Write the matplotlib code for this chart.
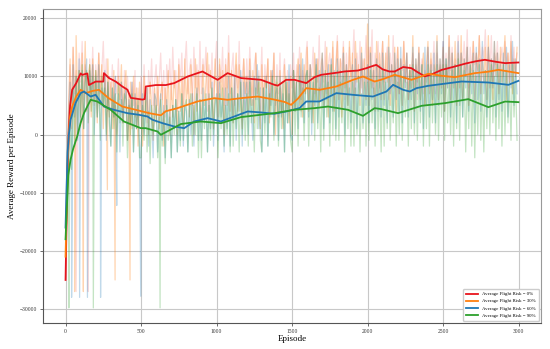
#!/usr/bin/env python3
"""Average reward per episode for four flight-risk levels (raw + smoothed)."""

import numpy as np
import matplotlib.pyplot as plt

plt.rcParams["font.family"] = ["Liberation Serif", "DejaVu Serif"]

labels = ["Average Flight Risk = 0%", "Average Flight Risk = 30%",
          "Average Flight Risk = 60%", "Average Flight Risk = 90%"]
colors = ["#e8141c", "#ff7f0e", "#1f77b4", "#2ca02c"]

# raw episode rewards (thousands), one value every 10 episodes, one row = 100 episodes
raw_step = 10
raw_red_k = [
    -25, -8, 5, 12, 4, 15, 7, 11, 3, 14,
    9, 16, 6, 12, 8, 4, 13, 7, 15, 5,
    12, 8, 14, 5, 11, 16, 7, 13, 4, 10,
    6, 12, 3, 10, 7, 13, 5, 9, 2, 11,
    4, 10, 6, 2, 9, 5, 11, 1, 8, 3,
    10, 4, 12, 6, 2, 11, 7, 13, 5, 9,
    12, 5, 9, 14, 6, 11, 3, 12, 8, 13,
    6, 15, 8, 11, 4, 13, 9, 14, 5, 12,
    16, 7, 11, 13, 5, 15, 8, 12, 6, 16,
    7, 13, 10, 15, 4, 12, 8, 14, 6, 11,
    16, 6, 12, 9, 15, 5, 13, 8, 17, 7,
    11, 14, 5, 12, 8, 16, 6, 10, 13, 4,
    13, 7, 15, 9, 5, 12, 14, 6, 11, 8,
    15, 4, 12, 8, 13, 3, 11, 9, 14, 5,
    12, 7, 14, 4, 10, 13, 6, 11, 5, 12,
    8, 14, 6, 12, 9, 15, 4, 11, 7, 13,
    16, 6, 12, 10, 15, 7, 13, 9, 17, 6,
    13, 9, 16, 7, 12, 14, 8, 15, 6, 12,
    17, 8, 13, 11, 16, 6, 14, 9, 15, 10,
    12, 18, 7, 14, 10, 16, 8, 13, 11, 17,
    9, 15, 12, 18, 7, 14, 10, 16, 8, 13,
    16, 9, 12, 15, 6, 14, 10, 17, 8, 12,
    15, 7, 13, 11, 16, 8, 14, 6, 12, 10,
    14, 8, 12, 6, 15, 10, 13, 7, 11, 9,
    15, 8, 13, 11, 16, 7, 14, 10, 12, 9,
    16, 10, 14, 8, 17, 11, 15, 9, 13, 12,
    17, 9, 14, 12, 16, 10, 18, 8, 15, 11,
    16, 12, 14, 9, 17, 11, 15, 13, 18, 10,
    15, 11, 17, 9, 14, 12, 16, 10, 13, 15,
    10, 16, 12, 14, 9, 17, 11, 15, 10, 14,
]
raw_orange_k = [
    -21, -5, 4, 13, 1, 15, 3, 17, 6, 11,
    2, 14, 5, 16, 4, 10, 12, 3, 13, 6,
    11, 2, 14, 7, 12, 1, 10, 6, 13, 3,
    9, 1, 11, 5, 0, 10, 6, 12, 2, 8,
    11, -1, 7, 9, 1, 10, 3, 8, -2, 9,
    4, -2, 10, 3, 8, 0, 9, 5, -1, 8,
    2, 10, 1, 7, 9, -2, 8, 4, 11, 0,
    9, 3, 11, 6, 0, 12, 4, 10, 1, 13,
    5, 10, 3, 12, 7, 0, 13, 4, 11, 6,
    2, 12, 5, 9, 14, 3, 11, 6, 1, 13,
    8, 3, 13, 6, 11, 0, 12, 5, 14, 4,
    11, 2, 9, 14, 4, 12, 6, 1, 13, 7,
    10, 3, 13, 5, 11, 2, 14, 7, 9, 1,
    12, 4, 10, 8, 13, 2, 11, 6, 14, 0,
    9, 3, 11, 5, 1, 12, 4, 9, 2, 10,
    0, 11, 4, 9, 13, 5, 14, 3, 12, 7,
    15, 4, 12, 9, 2, 14, 6, 13, 5, 11,
    14, 5, 10, 15, 3, 12, 7, 16, 4, 11,
    16, 6, 13, 3, 15, 8, 12, 5, 16, 7,
    14, 4, 16, 9, 12, 5, 15, 7, 13, 6,
    19, 5, 15, 8, 12, 4, 16, 7, 14, 6,
    16, 6, 14, 9, 17, 5, 12, 8, 15, 4,
    15, 7, 13, 5, 16, 9, 14, 6, 12, 8,
    17, 4, 13, 9, 15, 6, 11, 14, 5, 12,
    16, 7, 14, 5, 12, 10, 17, 6, 13, 8,
    15, 4, 12, 9, 17, 6, 14, 8, 16, 5,
    14, 8, 17, 6, 13, 10, 15, 5, 12, 9,
    16, 6, 14, 11, 17, 7, 13, 9, 15, 6,
    17, 8, 13, 6, 16, 10, 14, 7, 15, 9,
    12, 17, 6, 14, 9, 16, 7, 13, 10, 15,
]
raw_blue_k = [
    -16, -4, 2, 9, -2, 12, 3, 10, -1, 13,
    5, 11, 1, 9, 13, 2, 11, 6, 12, 0,
    10, 3, 12, 0, 8, 5, 11, -1, 9, 4,
    -2, 8, 3, 10, 0, 7, -3, 9, 2, 6,
    8, -1, 6, 2, 9, -3, 7, 1, 5, -2,
    -3, 7, 0, 5, 8, -2, 6, 3, -4, 7,
    6, -3, 4, 7, -1, 5, -4, 6, 1, 4,
    -4, 5, 1, 6, -3, 4, -1, 7, -2, 5,
    4, -3, 6, 0, 7, -2, 5, 8, -1, 6,
    -1, 8, 2, 6, -3, 7, 1, 9, -2, 5,
    7, -1, 9, 3, 6, -3, 8, 1, 10, -2,
    8, 2, 10, -1, 7, 4, 11, -2, 9, 3,
    9, 0, 11, 4, -1, 10, 6, 12, 1, 8,
    -3, 8, 2, 10, -2, 9, 5, 11, 0, 7,
    8, -1, 10, 3, 7, -3, 9, 2, 12, 0,
    -1, 11, 4, 9, 1, 12, 6, 13, 2, 10,
    11, 3, 12, 0, 9, 5, 13, 2, 11, 6,
    14, 1, 10, 6, 12, 2, 13, 4, 11, 1,
    13, 3, 11, 7, 14, 0, 12, 5, 10, 2,
    12, 4, 13, 1, 10, 7, 14, 2, 11, 5,
    12, 2, 14, 6, 11, 1, 13, 4, 12, 3,
    14, 5, 11, 2, 15, 7, 12, 3, 14, 6,
    13, 4, 15, 2, 12, 8, 14, 3, 11, 6,
    15, 2, 13, 7, 14, 4, 12, 1, 15, 5,
    15, 3, 12, 6, 14, 2, 16, 5, 13, 7,
    16, 4, 13, 8, 15, 3, 14, 6, 12, 2,
    16, 5, 14, 3, 13, 8, 15, 4, 12, 7,
    14, 2, 15, 6, 13, 4, 16, 7, 11, 3,
    15, 5, 13, 8, 16, 3, 14, 6, 12, 4,
    14, 6, 15, 3, 12, 8, 16, 5, 13, 7,
]
raw_green_k = [
    -18, -10, -4, 4, -6, 8, -2, 10, 0, 11,
    3, 12, 1, 9, 11, 2, 12, 4, 10, 1,
    11, 3, 9, -1, 10, 5, 8, 0, 9, 2,
    -2, 8, 1, 7, -3, 9, 2, 6, -2, 7,
    6, -4, 5, 0, 7, -3, 4, 1, 6, -4,
    -4, 5, -1, 6, -3, 4, -5, 5, 0, 3,
    5, -4, 3, 6, -2, 4, -5, 5, -1, 3,
    -4, 5, 0, 6, -3, 4, -2, 7, -1, 5,
    6, -3, 4, 7, -2, 5, 0, 7, -4, 6,
    -4, 6, 1, 7, -3, 5, -1, 8, 0, 6,
    6, -4, 7, 1, 8, -2, 5, 0, 7, -3,
    8, -2, 6, 1, 7, -3, 9, 0, 6, -1,
    7, -2, 9, 2, 6, -3, 8, 1, 10, -1,
    -3, 8, 0, 9, -2, 7, 3, 10, -1, 8,
    10, -2, 8, 1, 9, -3, 10, 2, 7, -1,
    -3, 11, 0, 9, -2, 10, 3, 8, -1, 9,
    11, -2, 9, 2, 10, -1, 12, 1, 8, -3,
    10, -1, 11, 3, 9, -2, 12, 0, 10, -1,
    11, -1, 9, 2, 10, -3, 11, 1, 8, -2,
    9, -2, 8, 0, 10, -3, 7, 1, 9, -2,
    9, -1, 11, 2, 8, -2, 10, 0, 9, -3,
    11, -2, 9, 1, 10, -1, 8, 2, 11, -2,
    9, 0, 11, -1, 10, 3, 9, -2, 11, 1,
    12, 0, 10, -1, 11, 2, 12, -2, 10, 1,
    12, -2, 11, 2, 10, 0, 12, -1, 11, 3,
    12, -1, 13, 2, 10, 0, 11, -2, 12, 1,
    13, -1, 12, 3, 11, -3, 10, 1, 12, -2,
    11, -4, 10, 0, 12, -1, 9, -3, 11, 1,
    11, 0, 12, 2, 10, -1, 12, 1, 11, -2,
    12, 0, 11, 2, 9, -1, 12, 3, 10, -1,
]

# single-episode crashes in the early phase (series index, episode, reward)
spike_series = [3, 2, 1, 0, 2, 1, 0, 2, 3, 2, 1, 1, 2, 1, 2, 3]
spike_ep = [22, 40, 60, 70, 93, 118, 150, 145, 184, 232, 277, 328, 339, 427, 498, 626]
spike_val = [-29800, -28000, -27000, -27000, -28000, -27000, -27000, -28000, -29800,
             -28000, -9500, -25000, -12200, -25000, -27800, -29800]

# smoothed curves
red_ep = [0, 6, 14, 22, 30, 44, 70, 100, 111, 144, 155, 177, 200, 250, 254, 288, 332,
          376, 410, 432, 509, 525, 531, 598, 664, 719, 808, 874, 907, 985, 1007, 1073,
          1162, 1295, 1383, 1406, 1461, 1517, 1594, 1649, 1693, 1804, 1846, 1937, 1992,
          2025, 2058, 2100, 2145, 2180, 2236, 2291, 2324, 2379, 2430, 2490, 2578, 2650,
          2720, 2777, 2850, 2910, 2999]
red_val = [-25000, -16000, -6000, 1000, 5000, 7700, 8800, 10500, 10250, 10500, 8500,
           8800, 9100, 9100, 10550, 9700, 9100, 8250, 7700, 6300, 6000, 6100, 8250, 8500,
           8500, 8830, 9960, 10550, 10830, 9700, 9400, 10550, 9700, 9400, 8540, 8400,
           9400, 9400, 8830, 9860, 10260, 10650, 10830, 11000, 11400, 11700, 11970,
           11200, 10830, 10830, 11600, 11400, 10830, 10000, 10400, 11100, 11690, 12200,
           12600, 12840, 12500, 12270, 12380]
orange_ep = [0, 6, 14, 22, 30, 44, 70, 100, 133, 180, 221, 285, 376, 465, 553, 631, 664,
             741, 874, 985, 1073, 1162, 1273, 1383, 1450, 1494, 1540, 1594, 1682, 1793,
             1904, 1970, 2047, 2100, 2180, 2291, 2402, 2490, 2578, 2711, 2800, 2867, 2999]
orange_val = [-21000, -14000, -5000, 500, 3000, 4800, 6500, 7680, 7100, 7500, 7680, 6250,
              4810, 4240, 3670, 3300, 4000, 4530, 5680, 6250, 5960, 6250, 6530, 6000,
              5600, 5100, 6200, 7970, 7680, 8250, 9400, 9970, 9100, 9500, 10260, 9400,
              10430, 10100, 9850, 10550, 10800, 11120, 10550]
blue_ep = [0, 6, 14, 22, 33, 66, 100, 122, 166, 199, 254, 321, 409, 487, 542, 576, 642,
           719, 786, 852, 941, 1029, 1118, 1206, 1295, 1383, 1461, 1549, 1594, 1682, 1793,
           1904, 2036, 2125, 2169, 2236, 2280, 2324, 2402, 2500, 2623, 2800, 2933, 2999]
blue_val = [-16000, -10000, -3000, 0, 2530, 5400, 7110, 7390, 6530, 6820, 4810, 4240,
            3670, 3380, 3100, 2530, 1950, 1380, 1090, 2240, 2810, 2240, 3100, 3960, 3790,
            3560, 3960, 4530, 5680, 5680, 7110, 6820, 6530, 7390, 8540, 7680, 7390, 7970,
            8370, 8700, 9110, 8940, 8540, 9220]
green_ep = [0, 8, 18, 33, 50, 77, 100, 122, 166, 210, 299, 387, 443, 498, 531, 609, 631,
            700, 764, 896, 1029, 1162, 1383, 1516, 1649, 1738, 1871, 1970, 2047, 2092,
            2202, 2357, 2512, 2667, 2800, 2911, 2999]
green_val = [-18000, -13000, -7000, -4350, -2500, -340, 2000, 3670, 5960, 5670, 4240, 2230,
             1660, 1090, 1090, 520, -50, 900, 1800, 2240, 1950, 2990, 3670, 4240, 4530,
             4810, 4240, 3210, 4530, 4360, 3670, 4930, 5390, 6080, 4700, 5670, 5560]

raw_all = [raw_red_k, raw_orange_k, raw_blue_k, raw_green_k]
smooth_all = [(red_ep, red_val), (orange_ep, orange_val),
              (blue_ep, blue_val), (green_ep, green_val)]
raw_alpha = [0.15, 0.32, 0.28, 0.28]

fig = plt.figure(figsize=(5.5, 3.49), dpi=100)
ax = fig.add_axes([0.078, 0.0745, 0.906, 0.8985])

# faint raw curves
for i, raw_k in enumerate(raw_all):
    x = list(np.arange(len(raw_k)) * raw_step)
    y = [v * 1000 for v in raw_k]
    for s, e, v in zip(spike_series, spike_ep, spike_val):
        if s == i:
            x.append(e)
            y.append(v)
    order = np.argsort(x, kind="stable")
    ax.plot(np.array(x)[order], np.array(y)[order], color=colors[i],
            alpha=raw_alpha[i], linewidth=0.9)

# smoothed curves
for (ep, val), c, lab in zip(smooth_all, colors, labels):
    ax.plot(ep, val, color=c, linewidth=1.3, label=lab)

ax.set_xlim(-150, 3150)
ax.set_ylim(-32400, 21500)
ax.set_xticks([0, 500, 1000, 1500, 2000, 2500, 3000])
ax.set_yticks([-30000, -20000, -10000, 0, 10000, 20000])
ax.tick_params(labelsize=4, length=2, width=0.5, pad=2, colors="#333333")
ax.grid(color="#c8c8c8", linewidth=0.8)
ax.set_axisbelow(True)
for side in ["top", "right"]:
    ax.spines[side].set_color("#999999")
for side in ["left", "bottom"]:
    ax.spines[side].set_color("#555555")

ax.set_xlabel("Episode", fontsize=6.5, labelpad=1)
ax.set_ylabel("Average Reward per Episode", fontsize=6.5, labelpad=3)

ax.legend(loc="lower right", fontsize=3.5, handlelength=2.6, labelspacing=0.55,
          borderpad=0.6, framealpha=1.0, edgecolor="#cccccc")

plt.savefig("out.png", dpi=100)
print("saved out.png")
